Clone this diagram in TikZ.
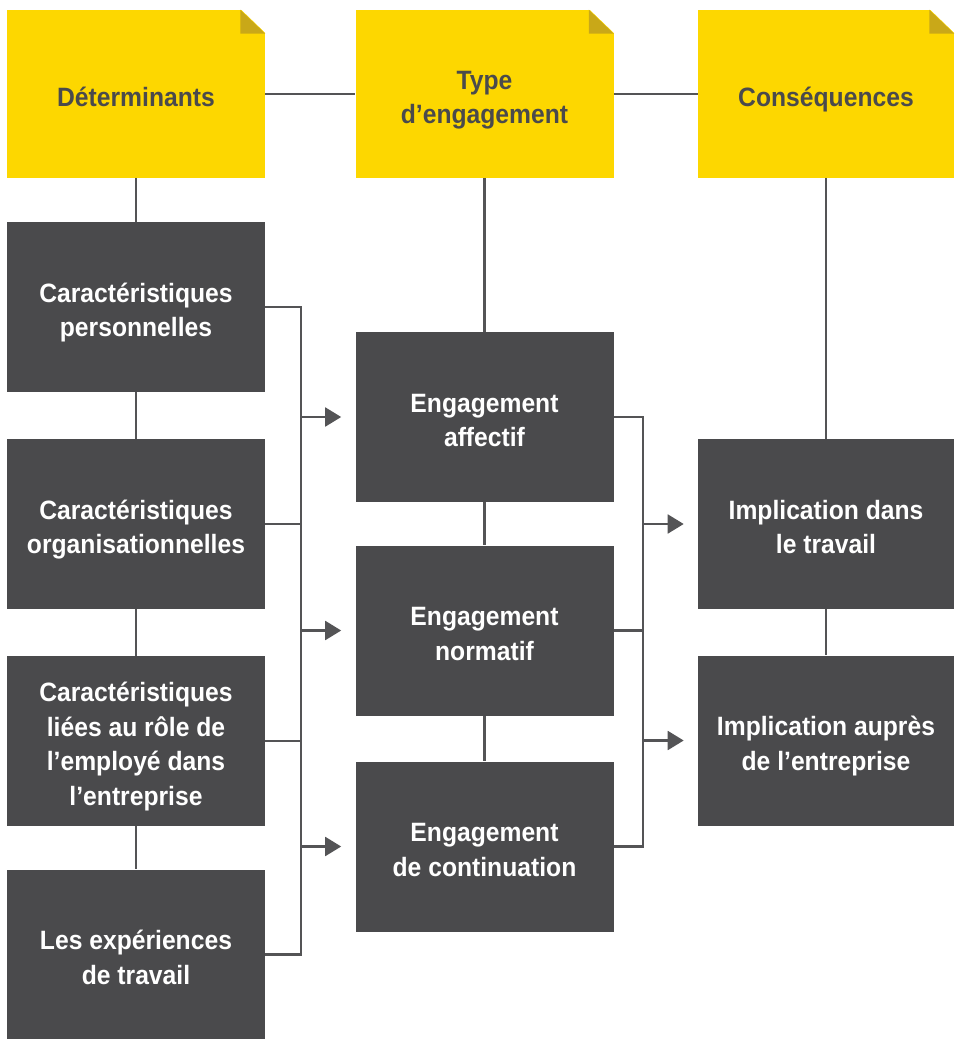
\documentclass[tikz,border=0pt]{standalone}
\usepackage{fontspec}
\setmainfont{Liberation Sans}[FakeStretch=0.93]
\usetikzlibrary{calc,arrows.meta}
\definecolor{ybox}{HTML}{FDD700}
\definecolor{yfold}{HTML}{C9A818}
\definecolor{dbox}{HTML}{4A4A4C}
\definecolor{lcol}{HTML}{545456}
\newcommand\FirstStrut{\rule{0pt}{23.5pt}}
\begin{document}
\begin{tikzpicture}[x=0.75pt,y=-0.75pt,
  txt/.style={font=\bfseries\fontsize{19.9pt}{26pt}\selectfont,align=center,inner sep=0pt,
    execute at end node={\rule[-5pt]{0pt}{1pt}}},
  ynode/.style={txt,fill=ybox,text=dbox,minimum width=193.5pt,minimum height=126pt},
  dnode/.style={txt,fill=dbox,text=white,minimum width=193.5pt,minimum height=127.5pt},
  conn/.style={draw=lcol,line width=2.2pt},
  arr/.style={conn,-{Triangle[length=12pt,width=14pt]},shorten >=10.5pt}]
\fill[white] (0,0) rectangle (954,1039);
\useasboundingbox (0,0) rectangle (954,1039);
% yellow header boxes
\node[ynode] (y1) at (136,94) {\FirstStrut Déterminants};
\node[ynode] (y2) at (484.5,94) {\FirstStrut Type\\d’engagement};
\node[ynode,minimum width=192pt] (y3) at (826,94) {\FirstStrut Conséquences};
\foreach \n in {y1,y2,y3}{
  \fill[white] ($(\n.north east)+(-25,-1)$) -- ($(\n.north east)+(1,-1)$) -- ($(\n.north east)+(1,24)$) -- cycle;
  \fill[yfold] ($(\n.north east)+(-25,0)$) -- ($(\n.north east)+(-25,24)$) -- ($(\n.north east)+(0,24)$) -- cycle;
}
% column 1
\node[dnode] (a) at (136,307) {\FirstStrut Caractéristiques\\personnelles};
\node[dnode] (b) at (136,524) {\FirstStrut Caractéristiques\\organisationnelles};
\node[dnode] (c) at (136,741) {\FirstStrut Caractéristiques\\liées au rôle de\\l’employé dans\\l’entreprise};
\node[dnode] (d) at (136,954.5) {\FirstStrut Les expériences\\de travail};
% column 2
\node[dnode] (e) at (484.5,417) {\FirstStrut Engagement\\affectif};
\node[dnode] (f) at (484.5,630.5) {\FirstStrut Engagement\\normatif};
\node[dnode] (g) at (484.5,846.5) {\FirstStrut Engagement\\de continuation};
% column 3
\node[dnode,minimum width=192pt] (h) at (826,524) {\FirstStrut Implication dans\\le travail};
\node[dnode,minimum width=192pt] (i) at (826,740.5) {\FirstStrut Implication auprès\\de l’entreprise};
% vertical / horizontal links
\draw[conn] (y1.east) -- (y2.west);
\draw[conn] (y2.east) -- (y3.west);
\draw[conn] (y1.south) -- (a.north);
\draw[conn] (a.south) -- (b.north);
\draw[conn] (b.south) -- (c.north);
\draw[conn] (c.south) -- (d.north);
\draw[conn] (y2.south) -- (e.north);
\draw[conn] (e.south) -- (f.north);
\draw[conn] (f.south) -- (g.north);
\draw[conn] (y3.south) -- (h.north);
\draw[conn] (h.south) -- (i.north);
% bus 1
\coordinate (bus1) at (301,0);
\draw[conn] (a.east) -- (a.east -| bus1) -- (d.east -| bus1) -- (d.east);
\draw[conn] (b.east) -- (b.east -| bus1);
\draw[conn] (c.east) -- (c.east -| bus1);
\draw[arr] (e.west -| bus1) -- (e.west);
\draw[arr] (f.west -| bus1) -- (f.west);
\draw[arr] (g.west -| bus1) -- (g.west);
% bus 2
\coordinate (bus2) at (643,0);
\draw[conn] (e.east) -- (e.east -| bus2) -- (g.east -| bus2) -- (g.east);
\draw[conn] (f.east) -- (f.east -| bus2);
\draw[arr] (h.west -| bus2) -- (h.west);
\draw[arr] (i.west -| bus2) -- (i.west);
\end{tikzpicture}
\end{document}
